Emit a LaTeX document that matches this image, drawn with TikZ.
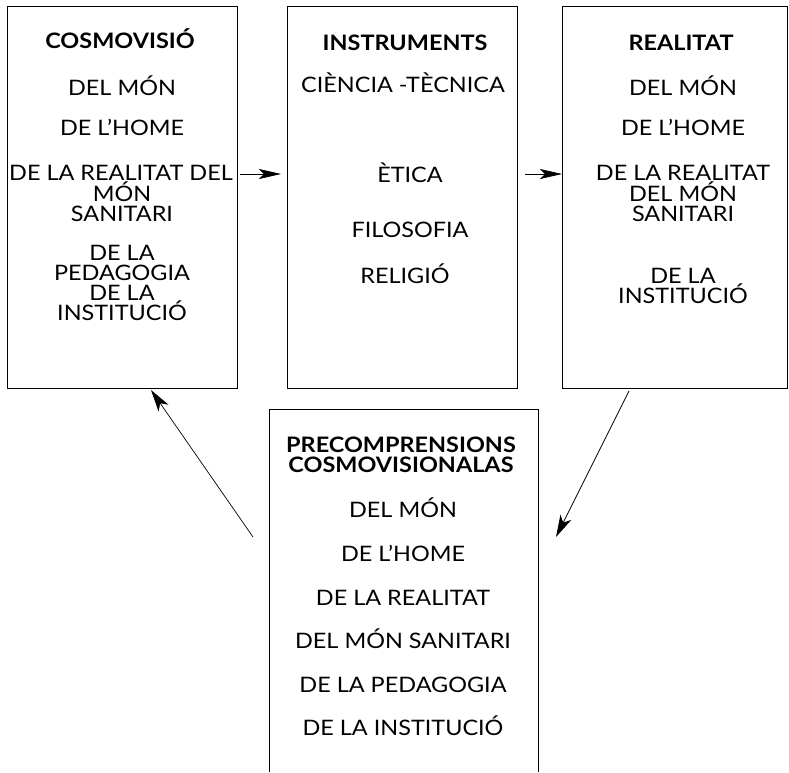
\documentclass[tikz,border=0pt]{standalone}
\usepackage{fontspec}
\setmainfont{Lato}[FakeStretch=1.1]
\usetikzlibrary{arrows.meta}
\begin{document}
\begin{tikzpicture}[x=1pt,y=-1pt,
  box/.style={draw,line width=0.8pt,inner sep=0pt,outer sep=0pt},
  txt/.style={anchor=base,inner sep=0pt,font=\fontsize{21.3}{22}\selectfont},
  hd/.style={txt,font=\fontsize{21.3}{22}\selectfont\bfseries},
  harr/.style={line width=0.7pt,-{Stealth[length=22pt,width=10pt,inset=5pt]}},
  darr/.style={line width=0.7pt,-{Stealth[length=22pt,width=12pt,inset=6pt]}}]
\useasboundingbox (0,0) rectangle (789,772);
% boxes
\node[box,minimum width=230pt,minimum height=382pt] (box1) at (122,197) {};
\node[box,minimum width=230pt,minimum height=382pt] (box2) at (402,197) {};
\node[box,minimum width=225pt,minimum height=382pt] (box3) at (674.5,197) {};
\node[inner sep=0pt,outer sep=0pt,minimum width=269pt,minimum height=363pt] (box4) at (403.5,590.5) {};
\draw[line width=0.8pt] (box4.south west) -- (box4.north west) -- (box4.north east) -- (box4.south east);
% box 1
\node[hd]  (a1) at (120,48)  {COSMOVISIÓ};
\node[txt] (a2) at (122,95)  {DEL MÓN};
\node[txt] (a3) at (122,135) {DE L’HOME};
\node[txt] (a4) at (121,180) {DE LA REALITAT DEL};
\node[txt] (a5) at (122,201) {MÓN};
\node[txt] (a6) at (122,221) {SANITARI};
\node[txt] (a7) at (122,260) {DE LA};
\node[txt] (a8) at (122,280) {PEDAGOGIA};
\node[txt] (a9) at (122,300) {DE LA};
\node[txt] (a10) at (122,320) {INSTITUCIÓ};
% box 2
\node[hd]  (b1) at (405,50)  {INSTRUMENTS};
\node[txt] (b2) at (403,92)  {CIÈNCIA -TÈCNICA};
\node[txt] (b3) at (410,182) {ÈTICA};
\node[txt] (b4) at (410,237) {FILOSOFIA};
\node[txt] (b5) at (405,283) {RELIGIÓ};
% box 3
\node[hd]  (c1) at (681,50)  {REALITAT};
\node[txt] (c2) at (683,95)  {DEL MÓN};
\node[txt] (c3) at (683,135) {DE L’HOME};
\node[txt] (c4) at (683,180) {DE LA REALITAT};
\node[txt] (c5) at (683,201) {DEL MÓN};
\node[txt] (c6) at (683,221) {SANITARI};
\node[txt] (c7) at (683,283) {DE LA};
\node[txt] (c8) at (683,303) {INSTITUCIÓ};
% box 4
\node[hd]  (d1) at (401,452) {PRECOMPRENSIONS};
\node[hd]  (d2) at (401,472) {COSMOVISIONALAS};
\node[txt] (d3) at (403,517) {DEL MÓN};
\node[txt] (d4) at (403,561) {DE L’HOME};
\node[txt] (d5) at (403,605) {DE LA REALITAT};
\node[txt] (d6) at (403,648) {DEL MÓN SANITARI};
\node[txt] (d7) at (403,692) {DE LA PEDAGOGIA};
\node[txt] (d8) at (403,735) {DE LA INSTITUCIÓ};
% arrows
\draw[harr] ([xshift=3pt,yshift=23pt]box1.east) -- ([xshift=-6pt,yshift=23pt]box2.west);
\draw[harr] ([xshift=8pt,yshift=23pt]box2.east) -- ([yshift=23pt]box3.west);
\draw[darr] ([xshift=-45.5pt,yshift=-3pt]box3.south) -- ([xshift=18pt,yshift=-128pt]box4.north east);
\draw[darr] ([xshift=-16pt,yshift=-128pt]box4.north west) -- ([xshift=29pt,yshift=-2pt]box1.south);
\end{tikzpicture}
\end{document}
